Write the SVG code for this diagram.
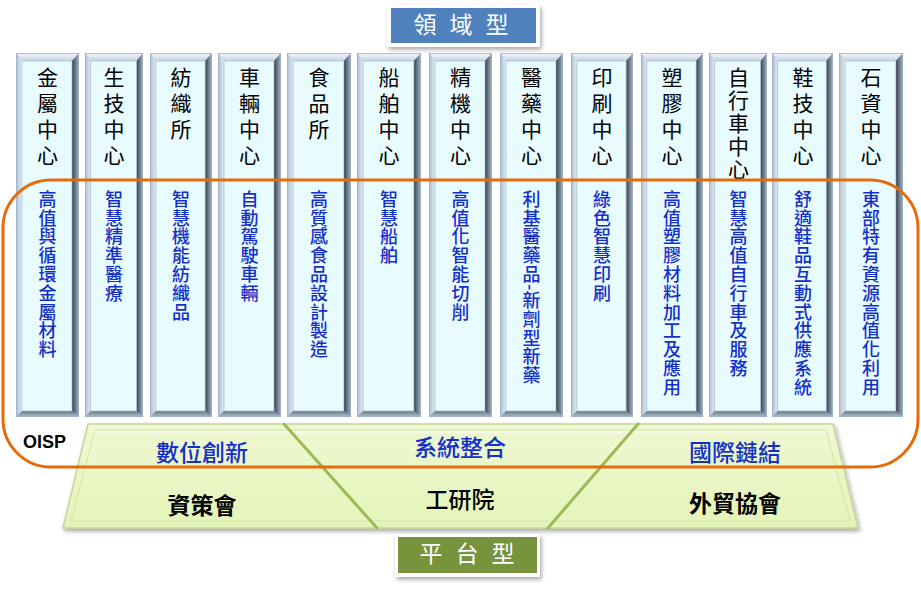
<svg xmlns="http://www.w3.org/2000/svg" xmlns:xlink="http://www.w3.org/1999/xlink" width="921" height="594" viewBox="0 0 921 594">
<style>
.cjk{font-family:"Noto Sans CJK TC","Noto Sans CJK SC",sans-serif}
.vt{writing-mode:vertical-rl;font-family:"Noto Sans CJK TC","Noto Sans CJK SC",sans-serif}
.top{font-size:21px;fill:#000;letter-spacing:5px}
.bot{font-size:18px;fill:#1430c8;letter-spacing:0.8px;font-weight:500}
.plab{font-size:23px;fill:#1430c8;text-anchor:middle;font-weight:500}
.org{font-size:23px;fill:#000;font-weight:bold;text-anchor:middle}
.badge{font-size:23px;fill:#fff;letter-spacing:13px;text-anchor:middle}
</style>
<defs>
<linearGradient id="gTop" x1="0" y1="0" x2="0" y2="1"><stop offset="0" stop-color="#f6f9fc"/><stop offset="1" stop-color="#c3d3e3"/></linearGradient>
<linearGradient id="gLeft" x1="0" y1="0" x2="1" y2="0"><stop offset="0" stop-color="#a9bdd2"/><stop offset="1" stop-color="#e2ebf3"/></linearGradient>
<linearGradient id="gRight" x1="0" y1="0" x2="1" y2="0"><stop offset="0" stop-color="#36424c"/><stop offset="1" stop-color="#a7b7c7"/></linearGradient>
<linearGradient id="gBot" x1="0" y1="0" x2="0" y2="1"><stop offset="0" stop-color="#6c7a86"/><stop offset="1" stop-color="#aebdcc"/></linearGradient>
<linearGradient id="gTrap" x1="0" y1="0" x2="0" y2="1"><stop offset="0" stop-color="#eef8d2"/><stop offset="0.5" stop-color="#e9f7c6"/><stop offset="1" stop-color="#e3f4b8"/></linearGradient>
<filter id="sh" x="-10%" y="-20%" width="120%" height="150%"><feDropShadow dx="1.5" dy="2.5" stdDeviation="2" flood-color="#000" flood-opacity="0.35"/></filter>
<symbol id="col" viewBox="0 0 63 364" preserveAspectRatio="none">
<rect x="0" y="0" width="63" height="364" fill="#b7c9dc"/>
<polygon points="0,0 63,0 56,8 6,8" fill="url(#gTop)"/>
<polygon points="0,0 6,8 6,358 0,364" fill="url(#gLeft)"/>
<polygon points="63,0 63,364 56,358 56,8" fill="url(#gRight)"/>
<polygon points="0,364 6,358 56,358 63,364" fill="url(#gBot)"/>
<rect x="6" y="8" width="50" height="350" fill="#e8fbff" stroke="#9fb3c6" stroke-width="0.6"/>
<rect x="0.4" y="0.4" width="62.2" height="363.2" fill="none" stroke="#9ab2cc" stroke-width="0.8"/>
</symbol>
</defs>

<g id="title">
<rect x="387" y="5" width="153" height="42" fill="#fff" filter="url(#sh)"/>
<rect x="391" y="8" width="145" height="35" fill="#4f81bd"/>
<text class="cjk badge" x="467.5" y="33" font-size="22">領域型</text>
</g>

<g id="platform-base">
<polygon points="88,424 833,424 858,528 63,528" fill="url(#gTrap)" stroke="#c3d69b" stroke-width="1.5" filter="url(#sh)"/>
<polygon points="95,430 826,430 850,521 71,521" fill="none" stroke="#d6e6ae" stroke-width="1.2"/>
<line x1="95" y1="432" x2="826" y2="432" stroke="#f8fdec" stroke-width="1.5"/>
</g>

<g id="dividers" stroke="#9bbb59" stroke-width="3" stroke-linecap="round">
<line x1="284" y1="424" x2="377" y2="528"/>
<line x1="638" y1="424" x2="548" y2="528"/>
</g>

<g id="n1"><use href="#col" x="16" y="53" width="63" height="364"/><text class="vt top" x="47.5" y="67">金屬中心</text><text class="vt bot" x="47.5" y="190">高值與循環金屬材料</text></g>
<g id="n2"><use href="#col" x="85" y="53" width="58" height="364"/><text class="vt top" x="114" y="67">生技中心</text><text class="vt bot" x="114" y="190">智慧精準醫療</text></g>
<g id="n3"><use href="#col" x="150" y="53" width="62" height="364"/><text class="vt top" x="181" y="67">紡織所</text><text class="vt bot" x="181" y="190">智慧機能紡織品</text></g>
<g id="n4"><use href="#col" x="218" y="53" width="63" height="364"/><text class="vt top" x="249.5" y="67">車輛中心</text><text class="vt bot" x="249.5" y="190">自動駕駛車輛</text></g>
<g id="n5"><use href="#col" x="287" y="53" width="64" height="364"/><text class="vt top" x="319" y="67">食品所</text><text class="vt bot" x="319" y="190">高質感食品設計製造</text></g>
<g id="n6"><use href="#col" x="357" y="53" width="64" height="364"/><text class="vt top" x="389" y="67">船舶中心</text><text class="vt bot" x="389" y="190">智慧船舶</text></g>
<g id="n7"><use href="#col" x="429" y="53" width="63" height="364"/><text class="vt top" x="460.5" y="67">精機中心</text><text class="vt bot" x="460.5" y="190">高值化智能切削</text></g>
<g id="n8"><use href="#col" x="500" y="53" width="63" height="364"/><text class="vt top" x="531.5" y="67">醫藥中心</text><text class="vt bot" x="531.5" y="190">利基醫藥品-新劑型新藥</text></g>
<g id="n9"><use href="#col" x="571" y="53" width="62" height="364"/><text class="vt top" x="602" y="67">印刷中心</text><text class="vt bot" x="602" y="190">綠色智慧印刷</text></g>
<g id="n10"><use href="#col" x="641" y="53" width="62" height="364"/><text class="vt top" x="672" y="67">塑膠中心</text><text class="vt bot" x="672" y="190">高值塑膠材料加工及應用</text></g>
<g id="n11"><use href="#col" x="709" y="53" width="58" height="364"/><text class="vt top" x="738.5" y="67" style="letter-spacing:2px">自行車中心</text><text class="vt bot" x="738.5" y="190">智慧高值自行車及服務</text></g>
<g id="n12"><use href="#col" x="772" y="53" width="61" height="364"/><text class="vt top" x="803" y="67">鞋技中心</text><text class="vt bot" x="803" y="190">舒適鞋品互動式供應系統</text></g>
<g id="n13"><use href="#col" x="839" y="53" width="64" height="364"/><text class="vt top" x="871" y="67">石資中心</text><text class="vt bot" x="871" y="190">東部特有資源高值化利用</text></g>

<g id="platform-labels">
<text class="cjk plab" x="202" y="461">數位創新</text>
<text class="cjk plab" x="460" y="456">系統整合</text>
<text class="cjk plab" x="735" y="460.5">國際鏈結</text>
<text class="cjk org" x="202" y="513.5">資策會</text>
<text class="cjk org" x="460" y="508" style="font-weight:500">工研院</text>
<text class="cjk org" x="735" y="511.5">外貿協會</text>
</g>

<g id="oisp">
<rect x="3" y="180" width="915" height="287" rx="48" ry="48" fill="none" stroke="#e46c0a" stroke-width="3"/>
<text x="23" y="448" font-family="Liberation Sans, Arial, sans-serif" font-weight="bold" font-size="18" fill="#000">OISP</text>
</g>

<g id="platform-badge">
<rect x="395" y="534" width="145" height="43" fill="#fff" filter="url(#sh)"/>
<rect x="398" y="537" width="139" height="36" fill="#77933c"/>
<text class="cjk badge" x="473.5" y="562">平台型</text>
</g>
</svg>
